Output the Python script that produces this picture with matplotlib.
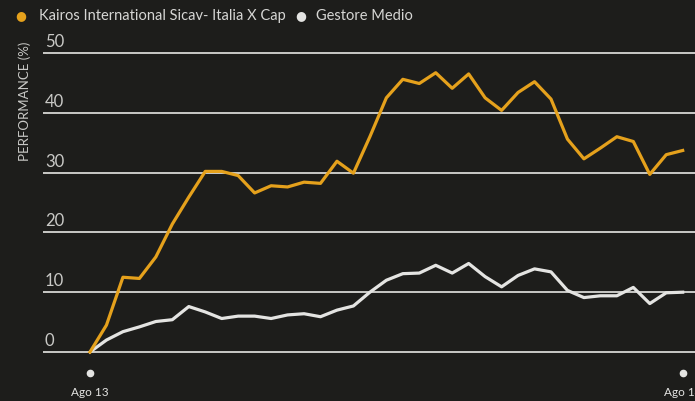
import matplotlib
matplotlib.use("Agg")
import matplotlib.pyplot as plt

# weekly performance (%) from Ago 13 to Ago 14
kairos = [0, 4.5, 12.5, 12.3, 15.9, 21.4, 25.9, 30.2, 30.2, 29.5, 26.6, 27.8,
          27.6, 28.4, 28.2, 31.9, 29.9, 36.0, 42.5, 45.6, 44.9, 46.7, 44.1,
          46.5, 42.5, 40.4, 43.4, 45.2, 42.3, 35.6, 32.3, 34.1, 36.0, 35.2,
          29.7, 33.0, 33.7]
gestore = [0, 2.0, 3.4, 4.2, 5.1, 5.4, 7.6, 6.7, 5.6, 6.0, 6.0, 5.6, 6.2,
           6.4, 5.9, 7.0, 7.7, 10.0, 12.0, 13.1, 13.2, 14.5, 13.2, 14.8, 12.6,
           10.9, 12.8, 13.9, 13.4, 10.3, 9.1, 9.4, 9.4, 10.8, 8.1, 9.9, 10.0]
series_names = ["Kairos International Sicav- Italia X Cap", "Gestore Medio"]
x_labels = ["Ago 13", "Ago 14"]
y_ticks = [0, 10, 20, 30, 40, 50]

BG = "#1d1d1b"
ORANGE = "#e5a11c"
WHITE = "#e4e4e2"
GRID = "#c9c9c6"
FONT = ["Lato", "DejaVu Sans"]

fig = plt.figure(figsize=(6.95, 4.01), dpi=100, facecolor=BG)
W, H = 695, 401
left, right, top, bottom = 43, 695, 25, 362
ax = fig.add_axes([left / W, 1 - bottom / H, (right - left) / W, (bottom - top) / H])
ax.set_facecolor(BG)

n = len(kairos)
x = list(range(n))
step = (682.7 - 90) / (n - 1)
ax.set_xlim((left - 90) / step, (right - 90) / step)
ppu = 5.98
ax.set_ylim((352 - bottom) / ppu, (352 - top) / ppu)

for v in y_ticks:
    ax.axhline(v, color=GRID, lw=1.4, zorder=1)
    ax.text(0.003, v + 0.5, str(v), transform=ax.get_yaxis_transform(),
            color=GRID, fontsize=12, family=FONT, ha="left", va="bottom")

ax.plot(x, gestore, color=WHITE, lw=2.3, zorder=3, solid_joinstyle="round")
ax.plot(x, kairos, color=ORANGE, lw=2.3, zorder=4, solid_joinstyle="round")

for sp in ax.spines.values():
    sp.set_visible(False)
ax.set_xticks([])
ax.set_yticks([])

# x labels with dots below the axis
for pos, lab in zip([0, n - 1], x_labels):
    ax.plot(pos, -0.033, "o", ms=4.5, color=WHITE, transform=ax.get_xaxis_transform(),
            clip_on=False)
    ax.text(pos, -0.09, lab, transform=ax.get_xaxis_transform(), color=WHITE,
            fontsize=8.5, family=FONT, ha="center", va="center", clip_on=False)

fig.text(25 / W, 1 - 101 / H, "PERFORMANCE (%)", rotation=90, color=GRID,
         fontsize=9.5, family=FONT, ha="center", va="center")

# legend
fig.text(21 / W, 1 - 16 / H, "\u25cf", color=ORANGE, fontsize=9, ha="center", va="center")
fig.text(39 / W, 1 - 16 / H, series_names[0], color="#d6d6d4", fontsize=10.5,
         family=FONT, ha="left", va="center")
fig.text(301 / W, 1 - 16 / H, "\u25cf", color=WHITE, fontsize=9, ha="center", va="center")
fig.text(316 / W, 1 - 16 / H, series_names[1], color="#d6d6d4", fontsize=10.5,
         family=FONT, ha="left", va="center")

fig.savefig("out.png", dpi=100, facecolor=BG)
